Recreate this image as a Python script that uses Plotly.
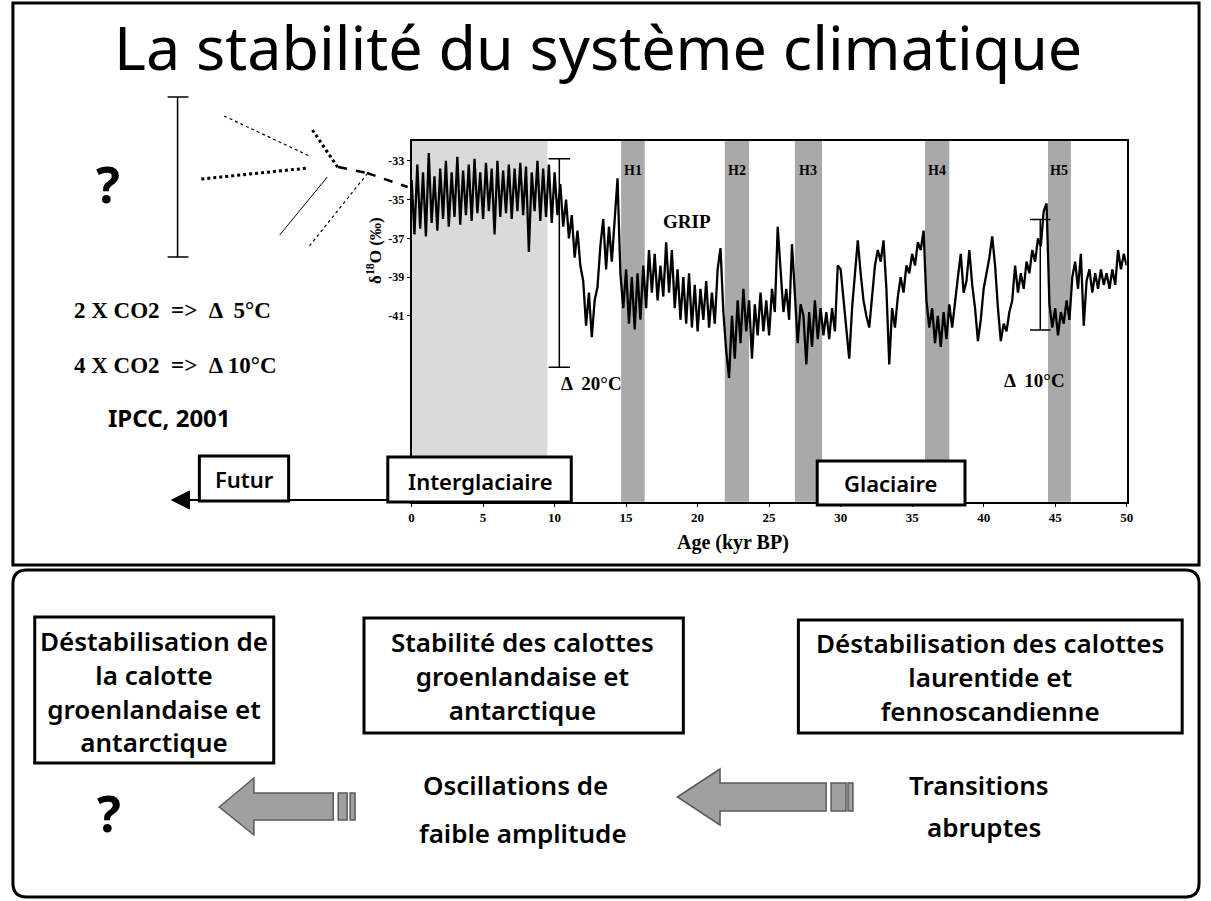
import plotly.graph_objects as go

# ---------------- data ----------------
age_step_kyr = 0.2
d18o = [
    -34.0, -36.8, -33.2, -36.5, -33.6, -36.9, -32.6, -36.2, -33.8, -36.6,
    -33.4, -36.0, -33.0, -36.4, -33.6, -35.9, -32.8, -36.3, -33.5, -35.8,
    -33.2, -36.1, -32.9, -35.7, -33.6, -36.0, -33.1, -35.6, -33.4, -36.8,
    -33.0, -35.9, -33.5, -35.7, -33.2, -36.0, -33.4, -35.6, -33.1, -35.8,
    -33.3, -37.7, -33.6, -35.6, -33.0, -36.1, -33.4, -35.9, -33.2, -36.2,
    -33.6, -35.8, -34.2, -36.4, -35.0, -37.0, -35.8, -38.0, -36.6, -38.4,
    -39.2, -41.5, -39.8, -42.1, -40.2, -39.5, -37.4, -36.0, -38.6, -36.4,
    -38.2, -36.0, -33.9, -38.8, -40.6, -38.6, -41.4, -39.0, -41.7, -38.8,
    -41.2, -38.4, -40.6, -37.6, -39.8, -37.8, -40.2, -38.4, -40.0, -37.2,
    -39.8, -37.6, -40.6, -38.6, -41.2, -39.0, -41.4, -38.8, -41.6, -39.4,
    -41.8, -39.6, -41.2, -39.2, -41.6, -39.8, -41.4, -38.6, -37.5, -40.8,
    -42.8, -44.2, -41.0, -43.2, -40.2, -42.4, -39.6, -41.8, -40.2, -43.2,
    -40.4, -42.0, -39.8, -41.8, -40.2, -42.0, -39.6, -40.8, -36.4, -38.6,
    -40.8, -39.6, -41.2, -37.3, -40.2, -42.4, -40.4, -41.0, -43.5, -40.8,
    -42.6, -40.2, -42.2, -40.6, -42.0, -40.8, -42.2, -40.6, -41.8, -38.4,
    -38.6, -40.2, -41.6, -43.2, -40.6, -38.6, -37.1, -38.8, -40.2, -41.0,
    -41.6, -40.0, -38.4, -37.6, -38.2, -37.1, -39.6, -43.5, -40.6, -41.6,
    -40.0, -39.0, -39.8, -38.4, -38.8, -37.8, -38.4, -37.2, -37.6, -36.6,
    -40.2, -41.6, -40.6, -42.4, -41.0, -42.6, -40.8, -42.2, -40.4, -41.6,
    -40.2, -39.0, -37.8, -39.8, -39.2, -37.6, -39.4, -40.6, -42.3, -41.2,
    -39.6, -38.8, -38.0, -36.9, -38.4, -40.6, -42.3, -41.4, -41.8, -40.8,
    -40.2, -38.4, -39.8, -38.8, -39.6, -38.2, -38.8, -37.6, -38.2, -37.0,
    -37.4, -35.6, -35.2, -40.4, -41.6, -40.6, -42.0, -40.8, -41.4, -40.2,
    -41.2, -39.0, -38.2, -39.6, -37.8, -41.5, -39.2, -38.6, -39.8, -38.8,
    -39.6, -38.6, -39.4, -38.8, -39.6, -38.6, -39.4, -37.6, -38.6, -37.8, -38.4,
]
age_kyr = [round(i * age_step_kyr, 1) for i in range(len(d18o))]

heinrich_labels = ["H1", "H2", "H3", "H4", "H5"]
heinrich_start = [14.65, 21.9, 26.8, 35.9, 44.5]
heinrich_end = [16.3, 23.6, 28.7, 37.6, 46.1]

interglacial_end = 9.5
x_ticks = [0, 5, 10, 15, 20, 25, 30, 35, 40, 45, 50]
y_ticks = [-33, -35, -37, -39, -41]

# brackets (kyr, permil)
br20_x, br20_top, br20_bot = 10.33, -32.9, -43.65
br10_x, br10_top, br10_bot = 43.96, -36.03, -41.73

# ---------------- layout helpers ----------------
W, H = 1211, 901
def PX(x):
    return x / W
def PY(y):
    return 1 - y / H

COMIC = "Noto Sans"
SERIF = "Liberation Serif"

fig = go.Figure()
fig.add_trace(go.Scatter(x=age_kyr, y=d18o, mode="lines",
                         line=dict(color="black", width=2.3),
                         hoverinfo="skip", showlegend=False))

shapes = []
annotations = []

# interglacial shading and Heinrich bands
shapes.append(dict(type="rect", xref="x", yref="y domain", x0=0, x1=interglacial_end,
                   y0=0, y1=1, fillcolor="#dadada", line=dict(width=0), layer="below"))
for lab, s, e in zip(heinrich_labels, heinrich_start, heinrich_end):
    shapes.append(dict(type="rect", xref="x", yref="y domain", x0=s, x1=e, y0=0, y1=1,
                       fillcolor="#a9a9a9", line=dict(width=0), layer="below"))
    annotations.append(dict(xref="x", yref="paper", x=(s + e) / 2, y=PY(161), text=f"<b>{lab}</b>",
                            showarrow=False, font=dict(family=SERIF, size=14, color="black")))

# brackets
for bx, bt, bb, cw in [(br20_x, br20_top, br20_bot, 0.75), (br10_x, br10_top, br10_bot, 0.72)]:
    shapes.append(dict(type="line", xref="x", yref="y", x0=bx, x1=bx, y0=bt, y1=bb, line=dict(color="black", width=1.5)))
    shapes.append(dict(type="line", xref="x", yref="y", x0=bx - cw, x1=bx + cw, y0=bt, y1=bt, line=dict(color="black", width=1.5)))
    shapes.append(dict(type="line", xref="x", yref="y", x0=bx - cw, x1=bx + cw, y0=bb, y1=bb, line=dict(color="black", width=1.5)))

# panels
shapes.append(dict(type="rect", xref="paper", yref="paper", x0=PX(10), x1=PX(1206), y0=PY(3), y1=PY(565),
                   line=dict(color="black", width=3)))
r = 14
x0, x1, y0, y1 = 10, 1206, 570, 897
path = (f"M {PX(x0+r)},{PY(y0)} L {PX(x1-r)},{PY(y0)} Q {PX(x1)},{PY(y0)} {PX(x1)},{PY(y0+r)} "
        f"L {PX(x1)},{PY(y1-r)} Q {PX(x1)},{PY(y1)} {PX(x1-r)},{PY(y1)} "
        f"L {PX(x0+r)},{PY(y1)} Q {PX(x0)},{PY(y1)} {PX(x0)},{PY(y1-r)} "
        f"L {PX(x0)},{PY(y0+r)} Q {PX(x0)},{PY(y0)} {PX(x0+r)},{PY(y0)} Z")
shapes.append(dict(type="path", xref="paper", yref="paper", path=path, line=dict(color="black", width=3)))

# left decorative lines (pixel coords)
def pline(xa, ya, xb, yb, width=1, dash="solid", color="black"):
    shapes.append(dict(type="line", xref="paper", yref="paper", x0=PX(xa), y0=PY(ya), x1=PX(xb), y1=PY(yb),
                       line=dict(color=color, width=width, dash=dash)))

pline(176, 97, 176, 257, 1.5)
pline(166, 97, 187, 97, 1.5)
pline(166, 257, 187, 257, 1.5)
pline(223, 116, 309, 156, 1.2, "dot")
pline(200, 179, 308, 168, 3, "dot")
pline(312, 130, 338, 168, 3, "dot")
pline(338, 167, 367, 173, 2.5, "dash")
pline(367, 173, 408, 187, 2.5, "dash")
pline(279, 235, 327, 177, 1, "solid")
pline(309, 246, 367, 174, 1.2, "dot")

# Futur arrow (line + head)
pline(186, 500, 413, 500, 2.2)
shapes.append(dict(type="path", xref="paper", yref="paper",
                   path=f"M {PX(170)},{PY(500)} L {PX(188)},{PY(491)} L {PX(188)},{PY(509)} Z",
                   fillcolor="black", line=dict(color="black", width=1)))

# boxes
def box(xa, ya, xb, yb):
    shapes.append(dict(type="rect", xref="paper", yref="paper", x0=PX(xa), x1=PX(xb), y0=PY(ya), y1=PY(yb),
                       fillcolor="white", line=dict(color="black", width=3)))

box(198, 456, 288, 501)
box(388, 457, 573, 502)
box(821, 461, 970, 505)
box(32, 617, 273, 763)
box(364, 618, 686, 733)
box(802, 620, 1189, 733)

# big arrows bottom
def big_arrow(tip_x, tip_y, back_x, head_top, head_bot, shaft_top, shaft_bot, shaft_end, stripes):
    p = (f"M {PX(tip_x)},{PY(tip_y)} L {PX(back_x)},{PY(head_top)} L {PX(back_x)},{PY(shaft_top)} "
         f"L {PX(shaft_end)},{PY(shaft_top)} L {PX(shaft_end)},{PY(shaft_bot)} L {PX(back_x)},{PY(shaft_bot)} "
         f"L {PX(back_x)},{PY(head_bot)} Z")
    shapes.append(dict(type="path", xref="paper", yref="paper", path=p, fillcolor="#a0a0a0",
                       line=dict(color="#5a5a5a", width=1.5)))
    for sa, sb in stripes:
        shapes.append(dict(type="rect", xref="paper", yref="paper", x0=PX(sa), x1=PX(sb), y0=PY(shaft_top), y1=PY(shaft_bot),
                           fillcolor="#a0a0a0", line=dict(color="#5a5a5a", width=1.5)))

big_arrow(218, 807, 253, 778, 835, 793, 820, 333, [(338, 347), (350, 355)])
big_arrow(680, 797, 723, 769, 825, 783, 811, 830, [(835, 850), (852, 857)])

# texts
def txt(x, y, s, size, family=COMIC, weight="normal", angle=0):
    annotations.append(dict(xref="paper", yref="paper", x=PX(x), y=PY(y), text=s, showarrow=False,
                            textangle=angle, xanchor="center", yanchor="middle",
                            font=dict(family=family, size=size, color="black", weight=weight)))

txt(600, 46, "La stabilité du système climatique", 61, COMIC, 400)
txt(106, 184, "?", 50, COMIC, 700)
txt(171, 310, "2 X CO2  =>  Δ  5°C", 23, SERIF, 700)
txt(174, 365, "4 X CO2  =>  Δ 10°C", 23, SERIF, 700)
txt(168, 417, "IPCC, 2001", 24, COMIC, 700)
txt(244, 479, "Futur", 22, COMIC, 600)
txt(481, 481, "Interglaciaire", 22, COMIC, 600)
txt(895, 483, "Glaciaire", 22, COMIC, 600)
txt(690, 222, "GRIP", 19, SERIF, 700)
txt(593, 383, "Δ  20°C", 19, SERIF, 700)
txt(1040, 380, "Δ  10°C", 19, SERIF, 700)
txt(374, 250, "δ<sup>18</sup>O (‰)", 17, SERIF, 700, -90)
txt(736, 542, "Age (kyr BP)", 20, SERIF, 700)

txt(152, 691, "Déstabilisation de<br>la calotte<br>groenlandaise et<br>antarctique", 26, COMIC, 600)
txt(524, 676, "Stabilité des calottes<br>groenlandaise et<br>antarctique", 26, COMIC, 600)
txt(995, 677, "Déstabilisation des calottes<br>laurentide et<br>fennoscandienne", 26, COMIC, 600)
txt(107, 813, "?", 50, COMIC, 700)
txt(517, 785, "Oscillations de", 26, COMIC, 600)
txt(524, 833, "faible amplitude", 26, COMIC, 600)
txt(984, 785, "Transitions", 26, COMIC, 600)
txt(989, 827, "abruptes", 26, COMIC, 600)

fig.update_layout(
    width=W, height=H, margin=dict(l=0, r=0, t=0, b=0), autosize=False,
    paper_bgcolor="white", plot_bgcolor="white",
    shapes=shapes, annotations=annotations, showlegend=False,
    xaxis=dict(domain=[PX(412), PX(1133)], range=[0, 50], tickvals=x_ticks,
               ticktext=[f"<b>{v}</b>" for v in x_ticks],
               tickfont=dict(family=SERIF, size=13, color="black"),
               showline=True, linecolor="black", linewidth=2, mirror=True,
               ticks="outside", ticklen=3, tickcolor="black", showgrid=False, zeroline=False),
    yaxis=dict(domain=[PY(501.7), PY(141)], range=[-50.58, -31.98], tickvals=y_ticks,
               ticktext=[f"<b>{v}</b>" for v in y_ticks],
               tickfont=dict(family=SERIF, size=12, color="black"),
               showline=True, linecolor="black", linewidth=2, mirror=True,
               ticks="outside", ticklen=3, tickcolor="black", showgrid=False, zeroline=False),
)

fig.write_html("out.html", config={"displayModeBar": False},
               post_script="document.body.style.margin='0';document.body.style.overflow='hidden';")
